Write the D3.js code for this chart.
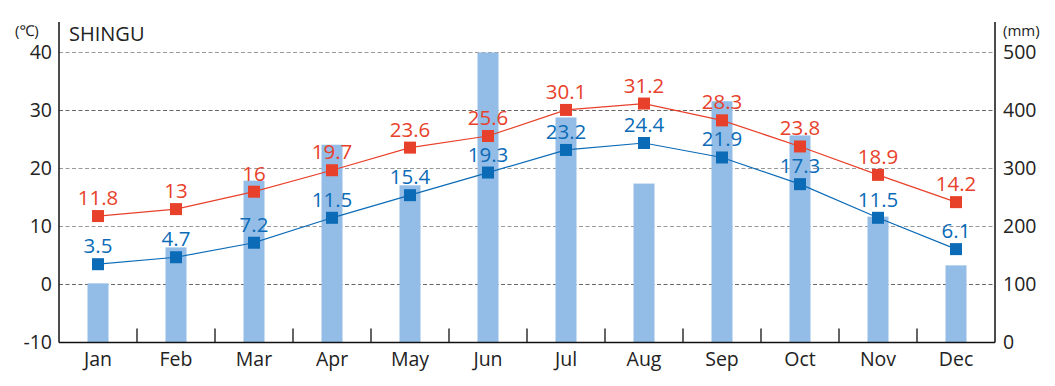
<!DOCTYPE html>
<html><head><meta charset="utf-8">
<script src="https://cdn.jsdelivr.net/npm/d3@7"></script>
<style>
html,body{margin:0;padding:0;background:#fff;}
text{font-family:"Open Sans","Noto Sans",sans-serif;}
</style></head>
<body><svg id="c" width="1055" height="386"></svg>
<script>
const months = ["Jan","Feb","Mar","Apr","May","Jun","Jul","Aug","Sep","Oct","Nov","Dec"];
const highTemp = [11.8,13,16,19.7,23.6,25.6,30.1,31.2,28.3,23.8,18.9,14.2];
const lowTemp = [3.5,4.7,7.2,11.5,15.4,19.3,23.2,24.4,21.9,17.3,11.5,6.1];
const precip = [102,164,279,341,271,500,388,274,416,357,217,133];
const tempTicks = [-10,0,10,20,30,40];
const precipTicks = [0,100,200,300,400,500];
const gridTemps = [0,10,20,30,40];

const svg = d3.select("#c");
const L = 59, R = 995, T = 52.5, B = 342.5;
const x = d3.scaleBand().domain(months).range([L,R]).padding(0);
const yT = d3.scaleLinear().domain([-10,40]).range([B,T]);
const yP = d3.scaleLinear().domain([0,500]).range([B,T]);
const red = "#e8412b", blue = "#0b6bb7", barC = "#93bde6";

// grid
svg.append("g").selectAll("line").data(gridTemps).join("line")
  .attr("x1",L).attr("x2",R).attr("y1",d=>yT(d)).attr("y2",d=>yT(d))
  .attr("stroke",d=>(d===0||d===30)?"#666":"#999").attr("stroke-width",1.2)
  .attr("stroke-dasharray","4,2.5");

// bars
const bw = 21;
svg.append("g").selectAll("rect").data(precip).join("rect")
  .attr("x",(d,i)=>x(months[i])+x.bandwidth()/2-bw/2)
  .attr("width",bw)
  .attr("y",d=>yP(d)).attr("height",d=>B-yP(d))
  .attr("fill",barC);

// lines
function series(data,color){
  const line = d3.line().x((d,i)=>x(months[i])+x.bandwidth()/2).y(d=>yT(d));
  svg.append("path").datum(data).attr("d",line).attr("fill","none")
    .attr("stroke",color).attr("stroke-width",1.2);
  svg.append("g").selectAll("rect").data(data).join("rect")
    .attr("x",(d,i)=>x(months[i])+x.bandwidth()/2-6)
    .attr("y",d=>yT(d)-6).attr("width",12).attr("height",12).attr("fill",color);
  svg.append("g").selectAll("text").data(data).join("text")
    .attr("x",(d,i)=>x(months[i])+x.bandwidth()/2)
    .attr("y",d=>yT(d)-11)
    .attr("text-anchor","middle").attr("font-size",20.5).attr("fill",color)
    .text(d=>String(d));
}
series(highTemp,red);
series(lowTemp,blue);

// axes
const axL = svg.append("g").attr("transform",`translate(${L},0)`)
  .call(d3.axisLeft(yT).tickValues(tempTicks).tickSize(0).tickPadding(7).tickFormat(d=>String(d)));
axL.select(".domain").remove();
axL.selectAll("text").attr("font-size",19.5).attr("fill","#222").attr("font-family","'Open Sans','Noto Sans',sans-serif");

const axR = svg.append("g").attr("transform",`translate(${R},0)`)
  .call(d3.axisRight(yP).tickValues(precipTicks).tickSize(0).tickPadding(8).tickFormat(d=>String(d)));
axR.select(".domain").remove();
axR.selectAll("text").attr("font-size",19.5).attr("fill","#222").attr("font-family","'Open Sans','Noto Sans',sans-serif");

const axB = svg.append("g").attr("transform",`translate(0,${B})`)
  .call(d3.axisBottom(x).tickSize(0).tickPadding(10));
axB.select(".domain").remove();
axB.selectAll("text").attr("font-size",19.5).attr("fill","#222").attr("font-family","'Open Sans','Noto Sans',sans-serif");

// inner ticks between months
svg.append("g").selectAll("line").data(months.slice(1)).join("line")
  .attr("x1",d=>x(d)).attr("x2",d=>x(d)).attr("y1",B).attr("y2",B-14)
  .attr("stroke","#111").attr("stroke-width",1.3);

// frame lines
svg.append("line").attr("x1",L).attr("x2",L).attr("y1",22).attr("y2",B).attr("stroke","#111").attr("stroke-width",1.5);
svg.append("line").attr("x1",R).attr("x2",R).attr("y1",22).attr("y2",B).attr("stroke","#111").attr("stroke-width",1.5);
svg.append("line").attr("x1",L).attr("x2",R).attr("y1",B).attr("y2",B).attr("stroke","#111").attr("stroke-width",1.5);

// titles
svg.append("text").attr("x",69).attr("y",41).attr("font-size",20).attr("fill","#222").text("SHINGU");
svg.append("text").attr("x",15).attr("y",36).attr("font-size",15).attr("fill","#222").text("(℃)");
svg.append("text").attr("x",1003).attr("y",36).attr("font-size",15).attr("fill","#222").text("(mm)");
</script></body></html>
